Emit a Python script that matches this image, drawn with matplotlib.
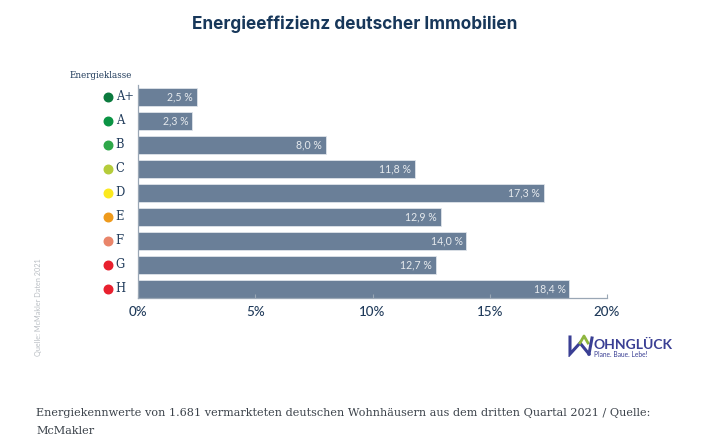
from matplotlib import pyplot as plt
from matplotlib.transforms import ScaledTranslation
import numpy as np

classes = ['A+', 'A', 'B', 'C', 'D', 'E', 'F', 'G', 'H']
shares = [2.5, 2.3, 8.0, 11.8, 17.3, 12.9, 14.0, 12.7, 18.4]
share_labels = ['2,5 %', '2,3 %', '8,0 %', '11,8 %', '17,3 %', '12,9 %', '14,0 %', '12,7 %', '18,4 %']
dot_colors = ['#0b7a3e', '#0b9444', '#2fa84a', '#b5cc3a', '#fbe91f', '#ee9a1c', '#e9856a', '#e8202e', '#e8202e']
x_ticks = [0, 5, 10, 15, 20]
x_tick_labels = ['0%', '5%', '10%', '15%', '20%']

W, H = 720, 447
NAVY = '#1f3a5a'
BAR = '#6a7f98'
AXIS = '#9aa7b5'

fig = plt.figure(figsize=(W / 100, H / 100), dpi=100)
# axes box in pixels: x 138-607, y 85-298
ax = fig.add_axes([138 / W, 1 - 298 / H, (607 - 138) / W, (298 - 85) / H])

y = np.arange(len(classes))
ax.barh(y, shares, height=0.72, color=BAR, edgecolor='#dfe4ea', linewidth=0.6)
ax.set_xlim(0, 20)
ax.set_ylim(len(classes) - 0.62, -0.5)

for i, (v, lab) in enumerate(zip(shares, share_labels)):
    ax.annotate(lab, (v, i), xytext=(-2.5, 0.3), textcoords='offset points', ha='right', va='center',
                color='#e6eaee', fontsize=7.6, family='Lato')

# class names and dots sit left of the axis
ax.set_yticks(y)
ax.set_yticklabels([])
ax.tick_params(axis='y', length=0)
dot_shift = ax.get_yaxis_transform() + ScaledTranslation(-30 / 100, 0, fig.dpi_scale_trans)
for i, (c, col) in enumerate(zip(classes, dot_colors)):
    ax.scatter([0], [i], s=38, color=col, clip_on=False, zorder=3, transform=dot_shift)
    ax.annotate(c, (0, i), xytext=(-16, 0), textcoords='offset points', ha='left', va='center',
                color=NAVY, fontsize=8.3, family='DejaVu Serif', annotation_clip=False)

ax.set_xticks(x_ticks)
ax.set_xticklabels(x_tick_labels, fontsize=9.6, color=NAVY, family='Lato', fontweight='medium')
ax.tick_params(axis='x', direction='in', length=3, width=0.8, color=AXIS, pad=6)
for s in ['top', 'right']:
    ax.spines[s].set_visible(False)
for s in ['left', 'bottom']:
    ax.spines[s].set_color(AXIS)
    ax.spines[s].set_linewidth(0.9)

fig.text(355 / W, 1 - 24 / H, 'Energieeffizienz deutscher Immobilien', ha='center', va='center',
         fontsize=12.4, fontweight='bold', color='#17375a', family='Inter')
fig.text(70 / W, 1 - 76 / H, 'Energieklasse', ha='left', va='center', fontsize=6.3,
         color=NAVY, family='DejaVu Serif')
fig.text(38 / W, 1 - 307 / H, 'Quelle: McMakler Daten 2021', rotation=90, ha='center', va='center',
         fontsize=5.2, color='#b9bec3', family='Lato')
fig.text(36 / W, 1 - 413 / H, 'Energiekennwerte von 1.681 vermarkteten deutschen Wohnhäusern aus dem dritten Quartal 2021 / Quelle:',
         ha='left', va='center', fontsize=8.1, color='#3c434b', family='DejaVu Serif')
fig.text(36 / W, 1 - 431 / H, 'McMakler', ha='left', va='center', fontsize=8.1,
         color='#3c434b', family='DejaVu Serif')

# logo
fig.text(593 / W, 1 - 345 / H, 'OHNGLÜCK', ha='left', va='center', fontsize=10, fontweight='bold',
         color='#3a3f94', family='Lato')
fig.text(594 / W, 1 - 354.5 / H, 'Plane. Baue. Lebe!', ha='left', va='center', fontsize=4.8,
         color='#3a3f94', family='Lato')
logo = fig.add_axes([568 / W, 1 - 357 / H, 28 / W, 23 / H])
logo.axis('off')
logo.set_xlim(0, 28)
logo.set_ylim(23, 0)
logo.plot([2, 2, 12, 21], [3, 20, 9, 20], color='#3a3f94', lw=2.2, solid_joinstyle='miter')
logo.plot([12, 16, 20], [9, 2, 9], color='#8fb63f', lw=2)
logo.plot([21, 24], [20, 4], color='#3a3f94', lw=2.2)

fig.savefig('out.png', dpi=100)
